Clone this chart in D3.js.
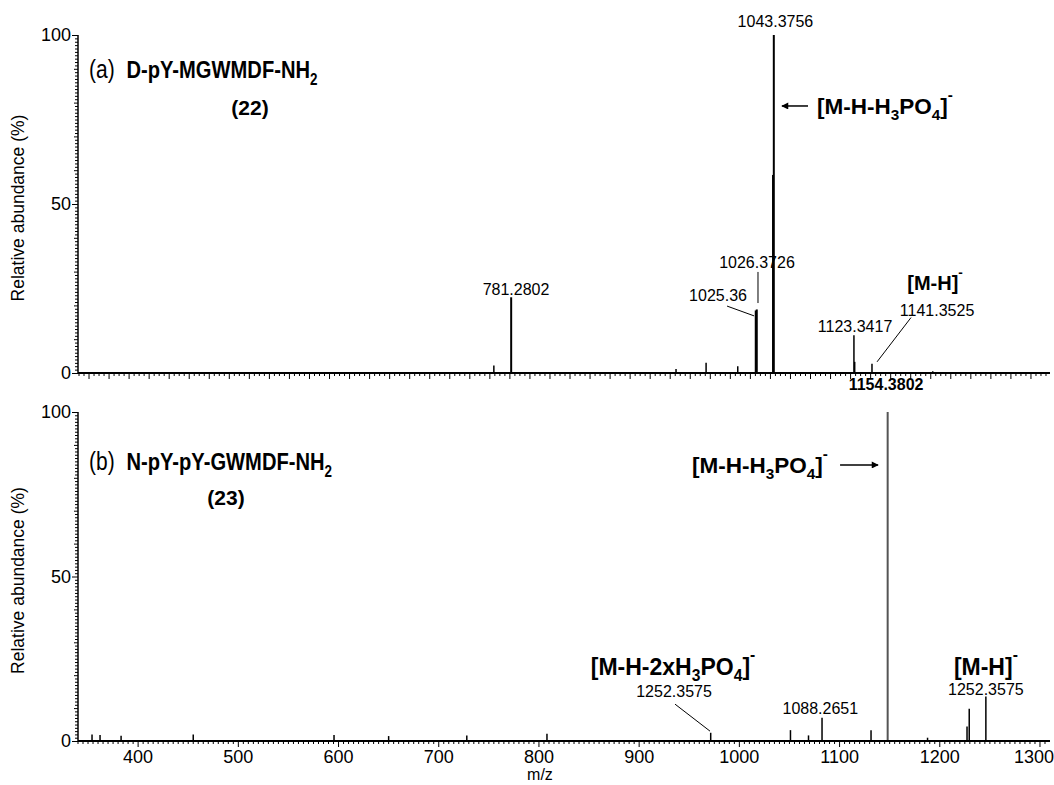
<!DOCTYPE html>
<html>
<head>
<meta charset="utf-8">
<script src="https://cdn.jsdelivr.net/npm/d3@7"></script>
<style>
body { margin: 0; background: #fff; }
svg { font-family: "Liberation Sans", Arial, sans-serif; }
</style>
</head>
<body>
<div id="chart"></div>
<script>
//Spectrum (a) - m/z and relative abundance
var mzA  = [764, 781.28, 945.8, 975.8, 1007.4, 1025.36, 1026.37, 1042.6, 1043.38, 1123.34, 1124.1, 1141.35, 1202];
var intA = [2.2, 22.4,   1.2,   3.0,   2.0,    18.5,    18.8,    58.6,   100,     11.2,    3.3,    2.7,     0.5];

//Spectrum (b)
var mzB  = [354, 362, 383, 455, 595.5, 650, 728, 808, 971.4, 1051, 1069, 1082.5, 1131.4, 1148, 1187.8, 1227.2, 1229.4, 1246];
var intB = [2.0, 1.8, 1.6, 2.0, 1.8,   1.5, 1.7, 2.2, 2.5,   3.3,  1.7,  7.1,    3.3,    100,  1.0,    4.4,    9.8,    13.5];

//Axis ticks
var yTicks = [0, 50, 100];
var xTicks = [400, 500, 600, 700, 800, 900, 1000, 1100, 1200, 1300];

//Number labels [text, m/z, abundance]
var labelsA = [
    ["781.2802", 786.1, 23.1],
    ["1043.3756", 1045, 102.4],
    ["1026.3726", 1026.6, 31],
    ["1025.36", 987.7, 21.2],
    ["1123.3417", 1124.5, 12.1],
    ["1141.3525", 1206.3, 16.9]
];
var labelsB = [
    ["1252.3575", 934.8, 13.4],
    ["1088.2651", 1080.8, 8.2],
    ["1252.3575", 1246, 14]
];
//Leader lines [mz1, int1, mz2, int2]
var leadersA = [
    [1027.6, 29.9, 1027.6, 20.7],
    [996.7, 19.8, 1023.7, 16.9],
    [1180.3, 16.4, 1146.4, 3.3]
];
var leadersB = [
    [935.8, 11.2, 970.7, 3.0]
];

var W = 1054, H = 785;
var left = 78, right = 1050;

var svg = d3.select("#chart")
    .append("svg")
    .attr("width", W)
    .attr("height", H);

var defs = svg.append("defs");
defs.append("marker")
    .attr("id", "arrow")
    .attr("viewBox", "0 0 10 10")
    .attr("refX", 9)
    .attr("refY", 5)
    .attr("markerWidth", 10)
    .attr("markerHeight", 7)
    .attr("markerUnits", "userSpaceOnUse")
    .attr("orient", "auto")
    .append("path")
    .attr("d", "M0,0 L10,5 L0,10 Z")
    .attr("fill", "#000");

function panel(opt) {
    var x = d3.scaleLinear().domain(opt.xDomain).range([left, right]);
    var y = d3.scaleLinear().domain([0, 100]).range([opt.y0, opt.y100]);
    var g = svg.append("g");

    //y minor ticks
    g.selectAll(".ymin")
        .data(d3.range(0, 101, 1))
        .enter()
        .append("line")
        .attr("x1", function(d) { return left - (d % 50 == 0 ? 6 : (d % 10 == 0 ? 4 : 3)); })
        .attr("x2", left)
        .attr("y1", function(d) { return y(d) + 0.5; })
        .attr("y2", function(d) { return y(d) + 0.5; })
        .attr("stroke", "#000")
        .attr("stroke-width", 1);

    g.selectAll(".ylab")
        .data(yTicks)
        .enter()
        .append("text")
        .attr("x", left - 7)
        .attr("y", function(d) { return y(d); })
        .attr("dy", "0.36em")
        .attr("text-anchor", "end")
        .attr("font-size", 18)
        .text(function(d) { return d; });

    //x ticks
    var step = opt.minorStep;
    g.selectAll(".xmin")
        .data(d3.range(Math.ceil(opt.xDomain[0] / step) * step, opt.xDomain[1], step))
        .enter()
        .append("line")
        .attr("x1", function(d) { return x(d); })
        .attr("x2", function(d) { return x(d); })
        .attr("y1", opt.y0)
        .attr("y2", function(d) { return opt.y0 + (d % opt.majorStep == 0 ? 6 : 3); })
        .attr("stroke", "#000")
        .attr("stroke-width", 1);

    //peaks
    g.selectAll(".peak")
        .data(opt.mz)
        .enter()
        .append("line")
        .attr("x1", function(d) { return x(d); })
        .attr("x2", function(d) { return x(d); })
        .attr("y1", y(0))
        .attr("y2", function(d, i) { return y(opt.int[i]); })
        .attr("stroke", function(d, i) { return opt.int[i] == 100 ? opt.mainColor : "#000"; })
        .attr("stroke-width", function(d, i) { return opt.int[i] > 15 ? 2 : 1.5; });

    //axis lines
    g.append("line")
        .attr("x1", left).attr("x2", right)
        .attr("y1", opt.y0).attr("y2", opt.y0)
        .attr("stroke", "#000").attr("stroke-width", 2);
    g.append("line")
        .attr("x1", left).attr("x2", left)
        .attr("y1", opt.y0 + 1).attr("y2", opt.y100)
        .attr("stroke", "#000").attr("stroke-width", 1.5);

    //y title
    g.append("text")
        .attr("transform", "translate(24," + ((opt.y0 + opt.y100) / 2 + 4) + ") rotate(-90)")
        .attr("text-anchor", "middle")
        .attr("font-size", 17.5)
        .text("Relative abundance (%)");

    //number labels
    g.selectAll(".num")
        .data(opt.labels)
        .enter()
        .append("text")
        .attr("x", function(d) { return x(d[1]); })
        .attr("y", function(d) { return y(d[2]); })
        .attr("text-anchor", "middle")
        .attr("font-size", 16)
        .text(function(d) { return d[0]; });

    g.selectAll(".lead")
        .data(opt.leaders)
        .enter()
        .append("line")
        .attr("x1", function(d) { return x(d[0]); })
        .attr("y1", function(d) { return y(d[1]); })
        .attr("x2", function(d) { return x(d[2]); })
        .attr("y2", function(d) { return y(d[3]); })
        .attr("stroke", "#000")
        .attr("stroke-width", 1);

    return {x: x, y: y, g: g};
}

function ionLabel(g, px, py, anchor, parts, size) {
    var t = g.append("text")
        .attr("x", px)
        .attr("y", py)
        .attr("text-anchor", anchor)
        .attr("font-size", size)
        .attr("font-weight", "bold");
    parts.forEach(function(p) {
        var s = t.append("tspan").text(p[0]);
        if (p[1] == "sub") {
            s.attr("font-size", size * 0.68).attr("dy", size * 0.28);
        } else if (p[1] == "sup") {
            s.attr("font-size", size * 0.68).attr("dy", -size * 0.62);
        } else if (p[1] == "base") {
            s.attr("dy", p[2] * size);
        }
    });
    return t;
}

//Peptide title, drawn a little condensed like the original
function title(g, px, py, tag, name) {
    var t = g.append("text")
        .attr("transform", "translate(" + px + "," + py + ") scale(0.84,1)")
        .attr("font-size", 25);
    t.append("tspan").text(tag);
    t.append("tspan").attr("dx", 14).attr("font-weight", "bold").attr("font-size", 24).text(name);
    t.append("tspan").attr("font-weight", "bold").attr("font-size", 16).attr("dy", 7).text("2");
}

var phosLoss = [["[M-H-H"], ["3", "sub"], ["PO", "base", -0.28], ["4", "sub"], ["]", "base", -0.28], ["-", "sup"]];
var twoPhosLoss = [["[M-H-2xH"], ["3", "sub"], ["PO", "base", -0.28], ["4", "sub"], ["]", "base", -0.28], ["-", "sup"]];
var parentIon = [["[M-H]"], ["-", "sup"]];

//Panel (a)
var a = panel({
    xDomain: [349, 1319], y0: 373, y100: 35,
    mz: mzA, int: intA, labels: labelsA, leaders: leadersA,
    minorStep: 5, majorStep: 20, mainColor: "#000"
});

title(a.g, a.x(360), a.y(87.4), "(a)", "D-pY-MGWMDF-NH");
a.g.append("text")
    .attr("x", a.x(520.7))
    .attr("y", a.y(76.3))
    .attr("text-anchor", "middle")
    .attr("font-size", 21)
    .attr("font-weight", "bold")
    .text("(22)");

ionLabel(a.g, a.x(1086.5), a.y(76.6), "start", phosLoss, 22.5);
a.g.append("line")
    .attr("x1", a.x(1077.5)).attr("x2", a.x(1051.5))
    .attr("y1", a.y(79)).attr("y2", a.y(79))
    .attr("stroke", "#000").attr("stroke-width", 1.5)
    .attr("marker-end", "url(#arrow)");
ionLabel(a.g, a.x(1204.3), a.y(24.6), "middle", parentIon, 20);

//Panel (b)
var b = panel({
    xDomain: [340, 1310], y0: 741, y100: 412,
    mz: mzB, int: intB, labels: labelsB, leaders: leadersB,
    minorStep: 5, majorStep: 100, mainColor: "#555"
});

b.g.selectAll(".xlab")
    .data(xTicks)
    .enter()
    .append("text")
    .attr("x", function(d, i) { return Math.min(b.x(d), W - 2 - 18); })
    .attr("y", 763)
    .attr("text-anchor", "middle")
    .attr("font-size", 18)
    .text(function(d) { return d; });

b.g.append("text")
    .attr("x", b.x(801))
    .attr("y", 780)
    .attr("text-anchor", "middle")
    .attr("font-size", 16)
    .text("m/z");

title(b.g, b.x(351), b.y(82.4), "(b)", "N-pY-pY-GWMDF-NH");
b.g.append("text")
    .attr("x", b.x(487.7))
    .attr("y", b.y(71.7))
    .attr("text-anchor", "middle")
    .attr("font-size", 21)
    .attr("font-weight", "bold")
    .text("(23)");

b.g.append("text")
    .attr("x", b.x(1146.4))
    .attr("y", b.y(106.7))
    .attr("text-anchor", "middle")
    .attr("font-size", 16)
    .attr("font-weight", "bold")
    .text("1154.3802");

ionLabel(b.g, b.x(1088.3), b.y(81.6), "end", phosLoss, 22.5);
b.g.append("line")
    .attr("x1", b.x(1100.5)).attr("x2", b.x(1138.4))
    .attr("y1", b.y(83.9)).attr("y2", b.y(83.9))
    .attr("stroke", "#000").attr("stroke-width", 1.5)
    .attr("marker-end", "url(#arrow)");
ionLabel(b.g, b.x(933.8), b.y(20.2), "middle", twoPhosLoss, 23);
ionLabel(b.g, b.x(1246), b.y(20.2), "middle", parentIon, 23);
</script>
</body>
</html>
